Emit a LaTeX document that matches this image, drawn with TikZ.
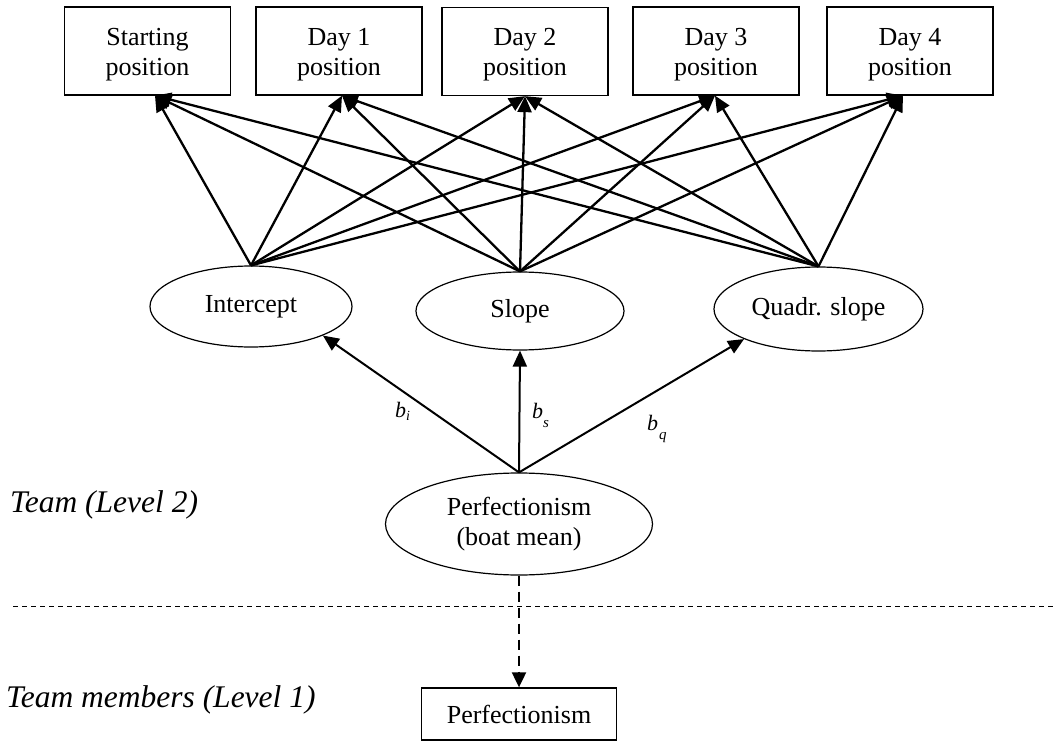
\documentclass[tikz,border=0pt]{standalone}
\usepackage{fontspec}
\setmainfont{Liberation Serif}
\usetikzlibrary{shapes.geometric,arrows.meta,calc}
\newcommand{\topstrut}{\rule{0pt}{24pt}}
\begin{document}
\begin{tikzpicture}[x=1pt,y=-1pt,
  posbox/.style={draw,line width=1.3pt,minimum width=166pt,minimum height=88pt,inner sep=0pt,align=center,font=\fontsize{26}{30}\selectfont},
  latent/.style={draw,ellipse,line width=1.2pt,inner sep=0pt,align=center,font=\fontsize{26}{30}\selectfont},
  toparrow/.style={line width=2.3pt,-{Triangle[length=16pt,width=14pt]}},
  patharrow/.style={line width=2pt,-{Triangle[length=16pt,width=14pt]}},
  levellabel/.style={anchor=base west,inner sep=0pt,font=\fontsize{31.5}{36}\selectfont\itshape},
  coef/.style={anchor=base west,inner sep=0pt,font=\fontsize{22}{24}\selectfont\itshape}]
\useasboundingbox (0,0) rectangle (1053,741);

% top boxes
\node[posbox] (b0) at (147.5,51) {\topstrut Starting\\position};
\node[posbox] (b1) at (339,51) {\topstrut Day 1\\position};
\node[posbox] (b2) at (525,51.5) {\topstrut Day 2\\position};
\node[posbox] (b3) at (716,51) {\topstrut Day 3\\position};
\node[posbox] (b4) at (910,51) {\topstrut Day 4\\position};

% arrow convergence points on box bottoms
\coordinate (t0) at ($(b0.south)+(7.5,0)$);
\coordinate (t1) at ($(b1.south)+(3,0)$);
\coordinate (t2) at ($(b2.south)+(0,0)$);
\coordinate (t3) at ($(b3.south)+(-1,0)$);
\coordinate (t4) at ($(b4.south)+(-7,0)$);

% growth factors
\node[latent,minimum width=202pt,minimum height=81pt] (int) at (251,306.5) {Intercept};
\node[latent,minimum width=208pt,minimum height=78pt] (slo) at (520,311) {Slope};
\node[latent,minimum width=209pt,minimum height=84pt] (qua) at (818.5,309) {Quadr. slope};

\foreach \s in {int,slo,qua}{
  \foreach \t in {t0,t1,t2,t3,t4}{
    \draw[toparrow] (\s.north) -- (\t);
  }
}

% level 2 predictor
\node[latent,minimum width=267pt,minimum height=102pt] (boat) at (519,524) {Perfectionism\\(boat mean)};

\draw[patharrow] (boat.north) -- (int.-22);
\draw[patharrow] (boat.north) -- (slo.south);
\draw[patharrow] (boat.north) -- (qua.-158);

\node[coef] (lbi) at (395,417) {b\raisebox{-3pt}{\fontsize{14}{14}\selectfont i}};
\node[coef] (lbs) at (532,418) {b\raisebox{-9pt}{\fontsize{15}{15}\selectfont s}};
\node[coef] (lbq) at (647,430) {b\hspace{1pt}\raisebox{-9pt}{\fontsize{15}{15}\selectfont q}};

% level separator
\coordinate (sepL) at (13,606);
\coordinate (sepR) at (1053,606);
\draw[line width=1pt,dash pattern=on 5pt off 4pt] (sepL) -- (sepR);

% level 1
\node[draw,line width=1.3pt,minimum width=195pt,minimum height=52pt,inner sep=0pt,font=\fontsize{26}{30}\selectfont] (pbox) at (519,714) {Perfectionism};

\draw[line width=2pt,dash pattern=on 10pt off 6pt,-{Triangle[length=15pt,width=14pt]}] (boat.south) -- (pbox.north);

\node[levellabel] (lv2) at (10,512) {Team (Level 2)};
\node[levellabel] (lv1) at (6,707) {Team members (Level 1)};
\end{tikzpicture}
\end{document}
